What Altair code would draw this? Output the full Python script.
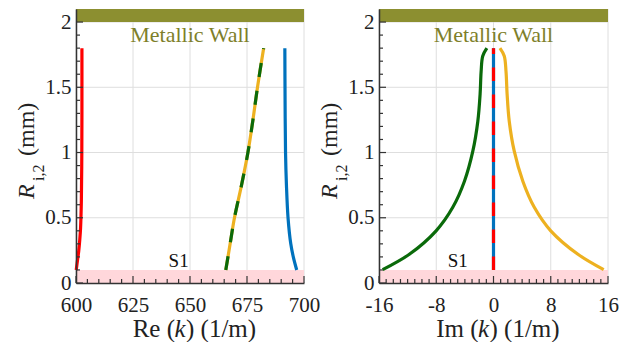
import altair as alt
import pandas as pd

# ---------------- data ----------------
# Left panel: Re(k) vs R
re_red_y = [0.1, 0.18, 0.245, 0.33, 0.42, 0.63, 1.0, 1.4, 1.8]
re_red_x = [600.1, 600.7, 601.2, 601.65, 602.0, 602.35, 602.55, 602.6, 602.6]
re_dash_y = [0.1, 0.3, 0.5, 0.75, 1.0, 1.25, 1.5, 1.8]
re_dash_x = [665.7, 667.6, 669.5, 672.6, 675.4, 677.6, 679.6, 682.3]
re_blue_y = [0.1, 0.2, 0.3, 0.5, 0.75, 1.0, 1.4, 1.8]
re_blue_x = [696.8, 695.3, 694.2, 693.0, 692.3, 691.9, 691.7, 691.6]

# Right panel: Im(k) vs R
im_green_y = [0.102, 0.22, 0.40, 0.58, 0.78, 1.01, 1.24, 1.45, 1.62, 1.74, 1.80]
im_green_x = [-15.49, -11.76, -8.02, -5.69, -4.06, -2.89, -2.19, -1.87, -1.73, -1.5, -0.93]
im_orange_y = [0.102, 0.22, 0.40, 0.58, 0.78, 1.01, 1.24, 1.45, 1.62, 1.74, 1.80]
im_orange_x = [15.4, 11.8, 8.0, 5.7, 4.1, 2.9, 2.2, 1.9, 1.75, 1.5, 0.9]
im_dash_y = [0.1, 1.8]
im_dash_x = [0.0, 0.0]

# axes
re_domain = [600, 700]
re_major = [600, 625, 650, 675, 700]
re_minor = [605, 610, 615, 620, 630, 635, 640, 645, 655, 660, 665, 670, 680, 685, 690, 695]
im_domain = [-16, 16]
im_major = [-16, -8, 0, 8, 16]
im_minor = [-15, -14, -13, -12, -11, -10, -9, -7, -6, -5, -4, -3, -2, -1,
            1, 2, 3, 4, 5, 6, 7, 9, 10, 11, 12, 13, 14, 15]
y_domain = [0, 2.1]
y_major = [0, 0.5, 1, 1.5, 2]
y_minor = [0.1, 0.2, 0.3, 0.4, 0.6, 0.7, 0.8, 0.9, 1.1, 1.2, 1.3, 1.4,
           1.6, 1.7, 1.8, 1.9]

# shaded regions
band_y0 = [0.0, 2.0]
band_y1 = [0.1, 2.1]
band_color = ["#ffd7db", "#8c8f30"]

# texts
wall_text = "Metallic Wall"
s1_text = "S1"
re_s1 = (645, 0.12)
im_s1 = (-5.0, 0.12)
re_title = ["Re (", "k", ") (1/m)"]
im_title = ["Im (", "k", ") (1/m)"]
y_title = ["R", "i,2", "(mm)"]

FONT = "serif"
H = 274
RED, BLUE, GREEN, ORANGE = "#ff0000", "#0072bd", "#0a6a0a", "#edb120"


def line_df(xs, ys):
    return pd.DataFrame({"x": xs, "y": ys, "i": list(range(len(xs)))})


def txt(t, size, x, y, align="left", italic=False, angle=None, color="#222"):
    kw = dict(font=FONT, fontSize=size, color=color, align=align, baseline="alphabetic")
    if italic:
        kw["fontStyle"] = "italic"
    if angle is not None:
        kw["angle"] = angle
    return (alt.Chart(pd.DataFrame({"t": [t]})).mark_text(**kw)
            .encode(text="t:N", x=alt.value(x), y=alt.value(y)))


def panel(W, xdom, xmaj, xmin, lines, s1pos, xtitle):
    xs = alt.Scale(domain=xdom, nice=False, zero=False)
    ys = alt.Scale(domain=y_domain, nice=False, zero=False)
    XAX = alt.Axis(values=xmaj, labelExpr="'' + datum.value", labelFont=FONT,
                   labelFontSize=21, labelColor="#222", labelPadding=11,
                   labelFlush=False, labelOverlap=False, ticks=False, grid=False,
                   domainColor="#333", domainWidth=1.5, title=None, zindex=1)
    YAX = alt.Axis(values=y_major, labelExpr="'' + datum.value", labelFont=FONT,
                   labelFontSize=21, labelColor="#222", labelPadding=5,
                   labelOverlap=False, ticks=False, grid=False,
                   domainColor="#333", domainWidth=1.5, title=None, zindex=1)
    X = lambda f: alt.X(f, scale=xs, axis=XAX)
    Y = lambda f: alt.Y(f, scale=ys, axis=YAX)

    layers = []
    # grid
    layers.append(alt.Chart(pd.DataFrame({"v": xmaj})).mark_rule(color="#dedede", strokeWidth=1)
                  .encode(x=X("v:Q"), y=alt.value(0), y2=alt.value(H)))
    layers.append(alt.Chart(pd.DataFrame({"v": y_major})).mark_rule(color="#dedede", strokeWidth=1)
                  .encode(y=Y("v:Q"), x=alt.value(0), x2=alt.value(W)))
    # bands
    bands = pd.DataFrame({"y0": band_y0, "y1": band_y1, "c": band_color})
    layers.append(alt.Chart(bands).mark_rect()
                  .encode(y=Y("y0:Q"), y2="y1:Q", x=alt.value(0), x2=alt.value(W),
                          color=alt.Color("c:N", scale=None)))
    # curves
    for xsd, ysd, col, dash in lines:
        kw = dict(color=col, strokeWidth=3.2, strokeCap="butt", interpolate="catmull-rom")
        if dash:
            kw["strokeDash"] = dash
        layers.append(alt.Chart(line_df(xsd, ysd)).mark_line(**kw)
                      .encode(x=X("x:Q"), y=Y("y:Q"), order="i:Q"))
    # inward ticks
    tk = dict(color="#333", strokeWidth=1.2)
    layers.append(alt.Chart(pd.DataFrame({"v": xmaj})).mark_rule(**tk)
                  .encode(x=X("v:Q"), y=alt.value(H), y2=alt.value(H - 7)))
    layers.append(alt.Chart(pd.DataFrame({"v": xmin})).mark_rule(**tk)
                  .encode(x=X("v:Q"), y=alt.value(H), y2=alt.value(H - 4)))
    layers.append(alt.Chart(pd.DataFrame({"v": y_major})).mark_rule(**tk)
                  .encode(y=Y("v:Q"), x=alt.value(0), x2=alt.value(7)))
    layers.append(alt.Chart(pd.DataFrame({"v": y_minor})).mark_rule(**tk)
                  .encode(y=Y("v:Q"), x=alt.value(0), x2=alt.value(4)))
    # annotations
    layers.append(txt(wall_text, 22, W / 2, 33, align="center", color="#7e7f2a"))
    layers.append(alt.Chart(pd.DataFrame({"t": [s1_text], "x": [s1pos[0]], "y": [s1pos[1]]}))
                  .mark_text(font=FONT, fontSize=19, color="#111", align="center",
                             baseline="alphabetic")
                  .encode(text="t:N", x=X("x:Q"), y=Y("y:Q")))
    # x title pieces
    kc = W / 2 - 10
    ty = H + 54
    layers.append(txt(xtitle[0], 25, kc - 5, ty, align="right"))
    layers.append(txt(xtitle[1], 25, kc, ty, align="center", italic=True))
    layers.append(txt(xtitle[2], 25, kc + 6, ty, align="left"))
    # y title pieces (rotated)
    layers.append(txt(y_title[0], 24, -42.5, 190, italic=True, angle=270))
    layers.append(txt(y_title[1], 16, -32, 172, angle=270))
    layers.append(txt(y_title[2], 24, -42.5, 147, angle=270))
    return alt.layer(*layers).properties(width=W, height=H)


left = panel(228, re_domain, re_major, re_minor,
             [(re_red_x, re_red_y, RED, None),
              (re_dash_x, re_dash_y, ORANGE, None),
              (re_dash_x, re_dash_y, GREEN, [14, 14]),
              (re_blue_x, re_blue_y, BLUE, None)],
             re_s1, re_title)
right = panel(229, im_domain, im_major, im_minor,
              [(im_green_x, im_green_y, GREEN, None),
               (im_orange_x, im_orange_y, ORANGE, None),
               (im_dash_x, im_dash_y, BLUE, None),
               (im_dash_x, im_dash_y, RED, [13.5, 13.5])],
              im_s1, im_title)

chart = (alt.hconcat(left, right, spacing=75, bounds="flush")
         .properties(padding={"left": 6, "top": 0, "right": 0, "bottom": 0})
         .configure(background="white")
         .configure_view(stroke=None))

chart.save("out.html", embed_options={"renderer": "svg", "actions": False})
